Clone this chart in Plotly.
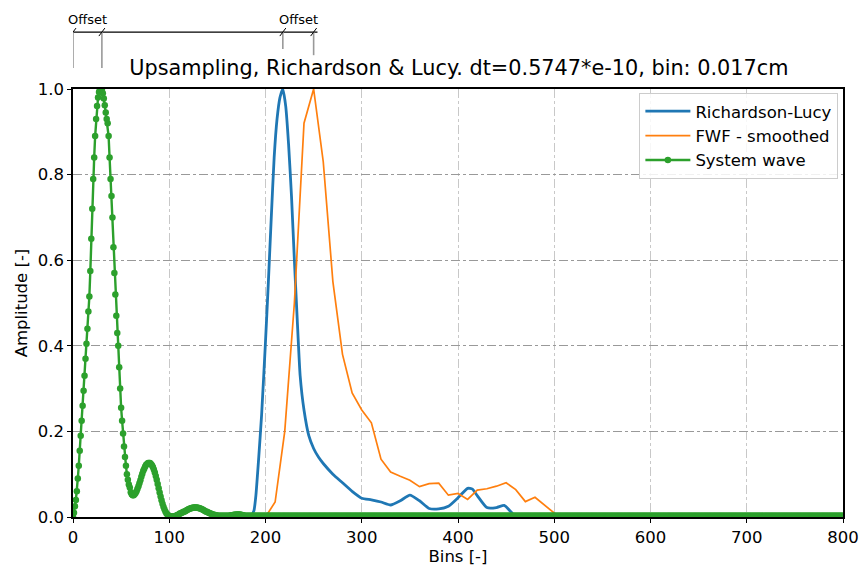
import plotly.graph_objects as go

# ---------------- data ----------------
sys_head = [
    0.0, 0.01, 0.025, 0.04, 0.06, 0.09, 0.12, 0.155, 0.19, 0.225,
    0.26, 0.295, 0.33, 0.37, 0.405, 0.44, 0.48, 0.515, 0.575, 0.65,
    0.72, 0.79, 0.84, 0.89, 0.93, 0.96, 0.98, 0.993, 0.999, 1.0,
    0.998, 0.99, 0.978, 0.962, 0.945, 0.93, 0.92, 0.89, 0.84, 0.79,
    0.75, 0.70, 0.63, 0.57, 0.52, 0.47, 0.43, 0.40, 0.35, 0.30,
    0.255, 0.225, 0.195, 0.165, 0.14, 0.12, 0.10, 0.087, 0.076, 0.069,
    0.058, 0.053, 0.051, 0.051, 0.053, 0.056, 0.06, 0.066, 0.072, 0.079,
    0.086, 0.094, 0.101, 0.108, 0.113, 0.118, 0.122, 0.124, 0.126, 0.126,
    0.126, 0.124, 0.121, 0.117, 0.111, 0.104, 0.096, 0.087, 0.077, 0.067,
    0.057, 0.048, 0.039, 0.031, 0.024, 0.018, 0.013, 0.009, 0.006, 0.004,
    0.002, 0.001, 0.001, 0.001, 0.001, 0.001, 0.002, 0.003, 0.004, 0.005,
    0.006, 0.008, 0.009, 0.01, 0.011, 0.012, 0.013, 0.014, 0.016, 0.017,
    0.018, 0.019, 0.02, 0.021, 0.021, 0.022, 0.022, 0.022, 0.022, 0.022,
    0.021, 0.021, 0.02, 0.019, 0.018, 0.017, 0.016, 0.014, 0.013, 0.012,
    0.011, 0.01, 0.009, 0.008, 0.007, 0.006, 0.005, 0.005, 0.004, 0.004,
    0.003, 0.003, 0.003, 0.003, 0.003, 0.003, 0.003, 0.003, 0.003, 0.003,
    0.003, 0.003, 0.003, 0.003, 0.004, 0.004, 0.004, 0.005, 0.005, 0.005,
    0.006, 0.006, 0.006, 0.006, 0.005, 0.005, 0.004, 0.004, 0.003, 0.003,
    0.003, 0.003, 0.003, 0.003, 0.003, 0.003, 0.003, 0.003, 0.003, 0.003,
]
sys_tail_level = 0.003
sys_y = sys_head + [sys_tail_level] * (801 - len(sys_head))
sys_x = list(range(len(sys_y)))

rl_x = [180, 185, 188, 190, 193, 196, 200, 203, 206, 209, 212, 215, 218, 221,
        224, 227, 230, 233, 236, 240, 245, 250, 255, 260, 270, 280, 290, 300,
        310, 320, 330, 340, 350, 360, 370, 380, 390, 400, 410, 415, 420, 430,
        440, 448, 455, 460, 800]
rl_y = [0.0, 0.003, 0.015, 0.05, 0.14, 0.24, 0.41, 0.55, 0.70, 0.84, 0.93,
        0.98, 1.0, 0.96, 0.87, 0.75, 0.6, 0.46, 0.33, 0.25, 0.19, 0.16, 0.14,
        0.125, 0.1, 0.08, 0.06, 0.044, 0.04, 0.035, 0.028, 0.038, 0.051, 0.038,
        0.02, 0.019, 0.025, 0.045, 0.067, 0.065, 0.05, 0.022, 0.022, 0.027,
        0.012, 0.0, 0.0]

fwf_x = [200, 210, 220, 230, 240, 250, 260, 270, 280, 290, 300, 310, 320, 330,
         340, 350, 360, 370, 380, 390, 400, 410, 420, 430, 440, 450, 460, 470,
         480, 490, 500, 505, 800]
fwf_y = [0.0, 0.035, 0.2, 0.5, 0.92, 1.0, 0.83, 0.55, 0.38, 0.29, 0.25, 0.22,
         0.135, 0.105, 0.095, 0.086, 0.071, 0.078, 0.079, 0.051, 0.055, 0.041,
         0.063, 0.066, 0.072, 0.08, 0.064, 0.036, 0.046, 0.028, 0.008, 0.0, 0.0]

x_ticks = [0, 100, 200, 300, 400, 500, 600, 700, 800]
y_ticks = [0.0, 0.2, 0.4, 0.6, 0.8, 1.0]

offset_pairs = [(0, 30), (218, 250)]
offset_labels = ["Offset", "Offset"]

title = "Upsampling, Richardson & Lucy. dt=0.5747*e-10, bin: 0.017cm"

# ---------------- figure ----------------
FONT = "DejaVu Sans"
fig = go.Figure()
fig.add_trace(go.Scatter(x=rl_x, y=rl_y, mode="lines", name="Richardson-Lucy",
                         line=dict(color="#1f77b4", width=2.8, shape="spline",
                                   smoothing=0.5)))
fig.add_trace(go.Scatter(x=fwf_x, y=fwf_y, mode="lines", name="FWF - smoothed",
                         line=dict(color="#ff7f0e", width=1.7)))
fig.add_trace(go.Scatter(x=sys_x, y=sys_y, mode="lines+markers", name="System wave",
                         line=dict(color="#2ca02c", width=2.4),
                         marker=dict(color="#2ca02c", size=6.5)))

shapes = []
# offset dimension lines
y_h = 1.133
shapes.append(dict(type="line", xref="x", yref="paper", x0=-4, x1=254, y0=y_h, y1=y_h,
                   line=dict(color="black", width=1.2)))
ends = [(offset_pairs[0][0], 1.049), (offset_pairs[0][1], 1.049),
        (offset_pairs[1][0], 1.0935), (offset_pairs[1][1], 1.079)]
for xv, yb in ends:
    shapes.append(dict(type="line", xref="x", yref="paper", x0=xv, x1=xv, y0=yb, y1=y_h,
                       line=dict(color="#999999", width=1.6)))
    shapes.append(dict(type="line", xref="x", yref="paper", xsizemode="pixel",
                       ysizemode="pixel", xanchor=xv, yanchor=y_h,
                       x0=-3, x1=3, y0=-4, y1=4, line=dict(color="black", width=1)))

annotations = []
for (a, b), lab in zip(offset_pairs, offset_labels):
    annotations.append(dict(x=(a + b) / 2, y=1.163, xref="x", yref="paper", text=lab,
                            yanchor="middle", xanchor="center", showarrow=False,
                            font=dict(family=FONT, size=13, color="black")))

fig.update_layout(
    width=861, height=570,
    margin=dict(l=73, r=18, t=89, b=53),
    paper_bgcolor="white", plot_bgcolor="white",
    font=dict(family=FONT, size=16, color="black"),
    title=dict(text=title, x=0.533, xanchor="center", y=0.882, yanchor="middle",
               font=dict(family=FONT, size=20.8, color="black")),
    showlegend=True,
    legend=dict(x=0.994, y=0.991, xanchor="right", yanchor="top",
                bgcolor="rgba(255,255,255,0.85)", bordercolor="#cccccc", borderwidth=1,
                font=dict(family=FONT, size=16.5), tracegroupgap=2, itemwidth=45),
    shapes=shapes,
    annotations=annotations,
)
fig.update_xaxes(range=[0, 800], tickvals=x_ticks, ticks="outside", ticklen=4,
                 tickcolor="black", showline=True, linecolor="black", linewidth=1.5,
                 mirror=True, showgrid=True, gridcolor="#c8c8c8", griddash="dashdot",
                 gridwidth=1, zeroline=False, automargin=False,
                 title=dict(text="Bins [-]", font=dict(family=FONT, size=16.5), standoff=2),
                 tickfont=dict(family=FONT, size=16.5))
fig.update_yaxes(range=[0, 1.0], tickvals=y_ticks, tickformat=".1f", ticks="outside",
                 ticklen=4, tickcolor="black", showline=True, linecolor="black",
                 linewidth=1.5, mirror=True, showgrid=True, gridcolor="#999999",
                 griddash="dashdot", gridwidth=1, zeroline=False, automargin=False,
                 title=dict(text="Amplitude [-]", font=dict(family=FONT, size=16.5),
                            standoff=6),
                 tickfont=dict(family=FONT, size=16.5))

fig.write_html("out.html")
